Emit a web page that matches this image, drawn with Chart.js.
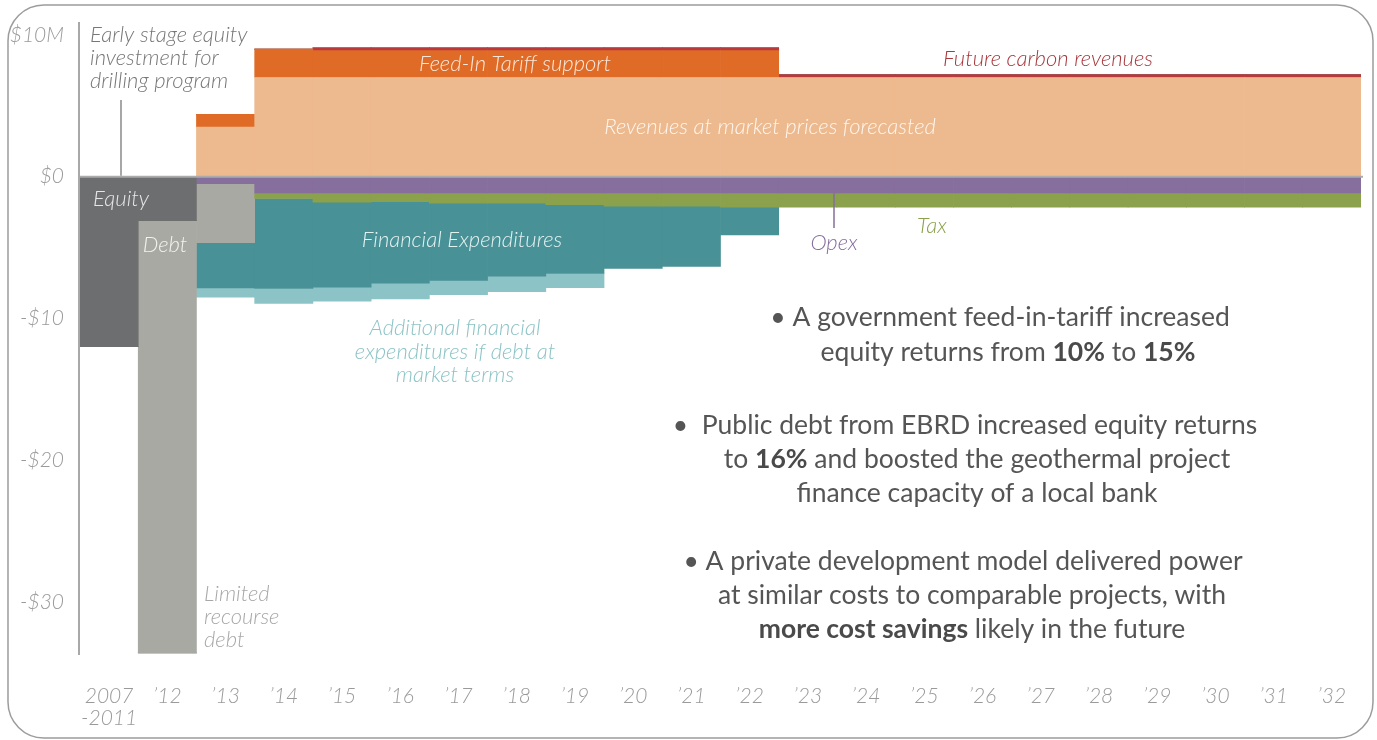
<!DOCTYPE html>
<html>
<head>
<meta charset="utf-8">
<script src="https://cdn.jsdelivr.net/npm/chart.js@4.4.1/dist/chart.umd.min.js"></script>
<style>
html, body { margin: 0; padding: 0; background: #fff; }
canvas { display: block; }
</style>
</head>
<body>
<canvas id="chart" width="1377" height="740"></canvas>
<script>
'use strict';

// categories along the bottom
var years = [['2007', '-2011'], '\u201912', '\u201913', '\u201914', '\u201915', '\u201916', '\u201917',
  '\u201918', '\u201919', '\u201920', '\u201921', '\u201922', '\u201923', '\u201924', '\u201925',
  '\u201926', '\u201927', '\u201928', '\u201929', '\u201930', '\u201931', '\u201932'];

// $M, positive side
var revenues = [0, 0, 3.5, 7, 7, 7, 7, 7, 7, 7, 7, 7, 7, 7, 7, 7, 7, 7, 7, 7, 7, 7];
var feedInTariff = [0, 0, 0.9, 2.0, 1.9, 1.9, 1.9, 1.9, 1.9, 1.9, 1.9, 1.9, 0, 0, 0, 0, 0, 0, 0, 0, 0, 0];
var carbon = [0, 0, 0, 0, 0.2, 0.2, 0.2, 0.2, 0.2, 0.2, 0.2, 0.2, 0.2, 0.2, 0.2, 0.2, 0.2, 0.2, 0.2, 0.2, 0.2, 0.2];

// $M, negative side
var equity = [-12.0, -3.1, 0, 0, 0, 0, 0, 0, 0, 0, 0, 0, 0, 0, 0, 0, 0, 0, 0, 0, 0, 0];
var opex = [0, 0, -0.5, -1.15, -1.15, -1.15, -1.15, -1.15, -1.15, -1.15, -1.15, -1.15, -1.15, -1.15, -1.15, -1.15, -1.15, -1.15, -1.15, -1.15, -1.15, -1.15];
var tax = [0, 0, 0, -0.39, -0.64, -0.62, -0.72, -0.72, -0.83, -0.93, -0.93, -1.0, -1.0, -1.0, -1.0, -1.0, -1.0, -1.0, -1.0, -1.0, -1.0, -1.0];
var debt = [0, -30.5, -4.15, 0, 0, 0, 0, 0, 0, 0, 0, 0, 0, 0, 0, 0, 0, 0, 0, 0, 0, 0];
var finExp = [0, 0, -3.2, -6.35, -6.0, -5.75, -5.45, -5.15, -4.85, -4.4, -4.25, -1.95, 0, 0, 0, 0, 0, 0, 0, 0, 0, 0];
var addFinExp = [0, 0, -0.65, -1.05, -1.0, -1.1, -1.0, -1.1, -1.0, 0, 0, 0, 0, 0, 0, 0, 0, 0, 0, 0, 0, 0];

var yTicks = [-30, -20, -10, 0, 10];

var FONT = 'Lato';
var ITALIC = 'italic 300 22px ' + FONT;

function textLines(ctx, lines, x, y, lineH, align, color, font) {
  ctx.save();
  ctx.font = font;
  ctx.fillStyle = color;
  ctx.textAlign = align;
  ctx.textBaseline = 'middle';
  for (var i = 0; i < lines.length; i++) {
    ctx.fillText(lines[i], x, y + i * lineH);
  }
  ctx.restore();
}

// a line made of [text, bold] runs, centred on cx
function richLine(ctx, runs, cx, y) {
  var regular = '400 26.5px ' + FONT;
  var bold = '700 26.5px ' + FONT;
  var total = 0;
  ctx.save();
  ctx.textBaseline = 'middle';
  ctx.textAlign = 'left';
  runs.forEach(function(r) {
    ctx.font = r[1] ? bold : regular;
    total += ctx.measureText(r[0]).width;
  });
  var x = cx - total / 2;
  runs.forEach(function(r) {
    ctx.font = r[1] ? bold : regular;
    ctx.fillStyle = r[1] ? '#4a4a4a' : '#555';
    ctx.fillText(r[0], x, y);
    x += ctx.measureText(r[0]).width;
  });
  ctx.restore();
}

var frame = {
  id: 'frame',
  beforeDraw: function(chart) {
    var ctx = chart.ctx;
    ctx.save();
    ctx.fillStyle = '#fff';
    ctx.fillRect(0, 0, chart.width, chart.height);
    ctx.beginPath();
    ctx.roundRect(8, 5, 1365, 733, 36);
    ctx.strokeStyle = '#9c9c9c';
    ctx.lineWidth = 1.5;
    ctx.stroke();
    ctx.restore();
  }
};

var notes = {
  id: 'notes',
  afterDatasetsDraw: function(chart) {
    var ctx = chart.ctx;
    var y = chart.scales.y;
    var area = chart.chartArea;
    var y0 = y.getPixelForValue(0);

    ctx.save();
    // y axis line, a little taller than the plot area
    ctx.strokeStyle = '#a8a8a8';
    ctx.lineWidth = 2;
    ctx.beginPath();
    ctx.moveTo(area.left - 1, 22);
    ctx.lineTo(area.left - 1, area.bottom);
    ctx.stroke();

    // zero line
    ctx.strokeStyle = '#ababab';
    ctx.beginPath();
    ctx.moveTo(area.left, y0);
    ctx.lineTo(area.right + 2, y0);
    ctx.stroke();

    // pointer for early stage equity
    ctx.strokeStyle = '#8a8a8a';
    ctx.lineWidth = 1.5;
    ctx.beginPath();
    ctx.moveTo(121, 100);
    ctx.lineTo(121, y0 - 1);
    ctx.stroke();

    // pointer for opex
    ctx.strokeStyle = '#866e9d';
    ctx.beginPath();
    ctx.moveTo(834, y.getPixelForValue(-1.15));
    ctx.lineTo(834, 228);
    ctx.stroke();
    ctx.restore();

    textLines(ctx, ['Early stage equity', 'investment for', 'drilling program'], 90, 35, 23, 'left', '#777', ITALIC);
    textLines(ctx, ['Feed-In Tariff support'], 515, 64, 23, 'center', '#fbe8da', ITALIC);
    textLines(ctx, ['Future carbon revenues'], 1048, 59, 23, 'center', '#a8383c', ITALIC);
    textLines(ctx, ['Revenues at market prices forecasted'], 770, 127, 23, 'center', '#fff6ee', ITALIC);
    textLines(ctx, ['Equity'], 121, 199, 23, 'center', '#e6e6e6', ITALIC);
    textLines(ctx, ['Debt'], 165, 245, 23, 'center', '#f2f2ef', ITALIC);
    textLines(ctx, ['Financial Expenditures'], 462, 240, 23, 'center', '#e4f1f1', ITALIC);
    textLines(ctx, ['Opex'], 834, 243, 23, 'center', '#866e9d', ITALIC);
    textLines(ctx, ['Tax'], 932, 226, 23, 'center', '#8ba14b', ITALIC);
    textLines(ctx, ['Additional financial', 'expenditures if debt at', 'market terms'], 455, 328, 23.5, 'center', '#8cc3c6', ITALIC);
    textLines(ctx, ['Limited', 'recourse', 'debt'], 204, 594, 23, 'left', '#a8a8a8', ITALIC);

    richLine(ctx, [['\u2022 A government feed-in-tariff increased', false]], 1000, 317);
    richLine(ctx, [['equity returns from ', false], ['10%', true], [' to ', false], ['15%', true]], 1008, 352);
    richLine(ctx, [['\u2022  Public debt from EBRD increased equity returns', false]], 965, 425);
    richLine(ctx, [['to ', false], ['16%', true], [' and boosted the geothermal project', false]], 977, 459);
    richLine(ctx, [['finance capacity of a local bank', false]], 977, 493);
    richLine(ctx, [['\u2022 A private development model delivered power', false]], 963, 561);
    richLine(ctx, [['at similar costs to comparable projects, with', false]], 972, 595);
    richLine(ctx, [['more cost savings', true], [' likely in the future', false]], 972, 629);
  }
};

function series(label, data, color) {
  return {
    label: label,
    data: data,
    backgroundColor: color,
    borderWidth: 0,
    stack: 'all',
    barPercentage: 1,
    categoryPercentage: 1
  };
}

var ctx = document.getElementById('chart').getContext('2d');
var chart = new Chart(ctx, {
  type: 'bar',
  data: {
    labels: years,
    datasets: [
      series('Revenues at market prices forecasted', revenues, '#edb98e'),
      series('Feed-In Tariff support', feedInTariff, '#df6b27'),
      series('Future carbon revenues', carbon, '#b93a3d'),
      series('Equity', equity, '#6d6e70'),
      series('Opex', opex, '#866e9d'),
      series('Tax', tax, '#8ba14b'),
      series('Debt', debt, '#a7a9a2'),
      series('Financial Expenditures', finExp, '#489196'),
      series('Additional financial expenditures', addFinExp, '#8cc3c6')
    ]
  },
  options: {
    responsive: false,
    devicePixelRatio: 1,
    animation: false,
    layout: { padding: { left: 0, right: 16, top: 12, bottom: 0 } },
    plugins: {
      legend: { display: false },
      tooltip: { enabled: false }
    },
    scales: {
      x: {
        stacked: true,
        grid: { display: false, drawTicks: false },
        border: { display: false },
        ticks: {
          color: '#9a9a9a',
          padding: 30,
          maxRotation: 0,
          autoSkip: false,
          font: { family: FONT, size: 21, style: 'italic', weight: 300, lineHeight: 1.05 }
        },
        afterFit: function(scale) { scale.height = 85; }
      },
      y: {
        stacked: true,
        min: -33.75,
        max: 10.45,
        grid: { display: false, drawTicks: false },
        border: { display: false },
        afterBuildTicks: function(scale) {
          scale.ticks = yTicks.map(function(v) { return { value: v }; });
        },
        ticks: {
          color: '#9a9a9a',
          padding: 16,
          font: { family: FONT, size: 21, style: 'italic', weight: 300 },
          callback: function(v) {
            if (v === 10) return '$10M';
            if (v === 0) return '$0';
            return '-$' + Math.abs(v);
          }
        },
        afterFit: function(scale) { scale.width = 80; }
      }
    }
  },
  plugins: [frame, notes]
});
</script>
</body>
</html>
